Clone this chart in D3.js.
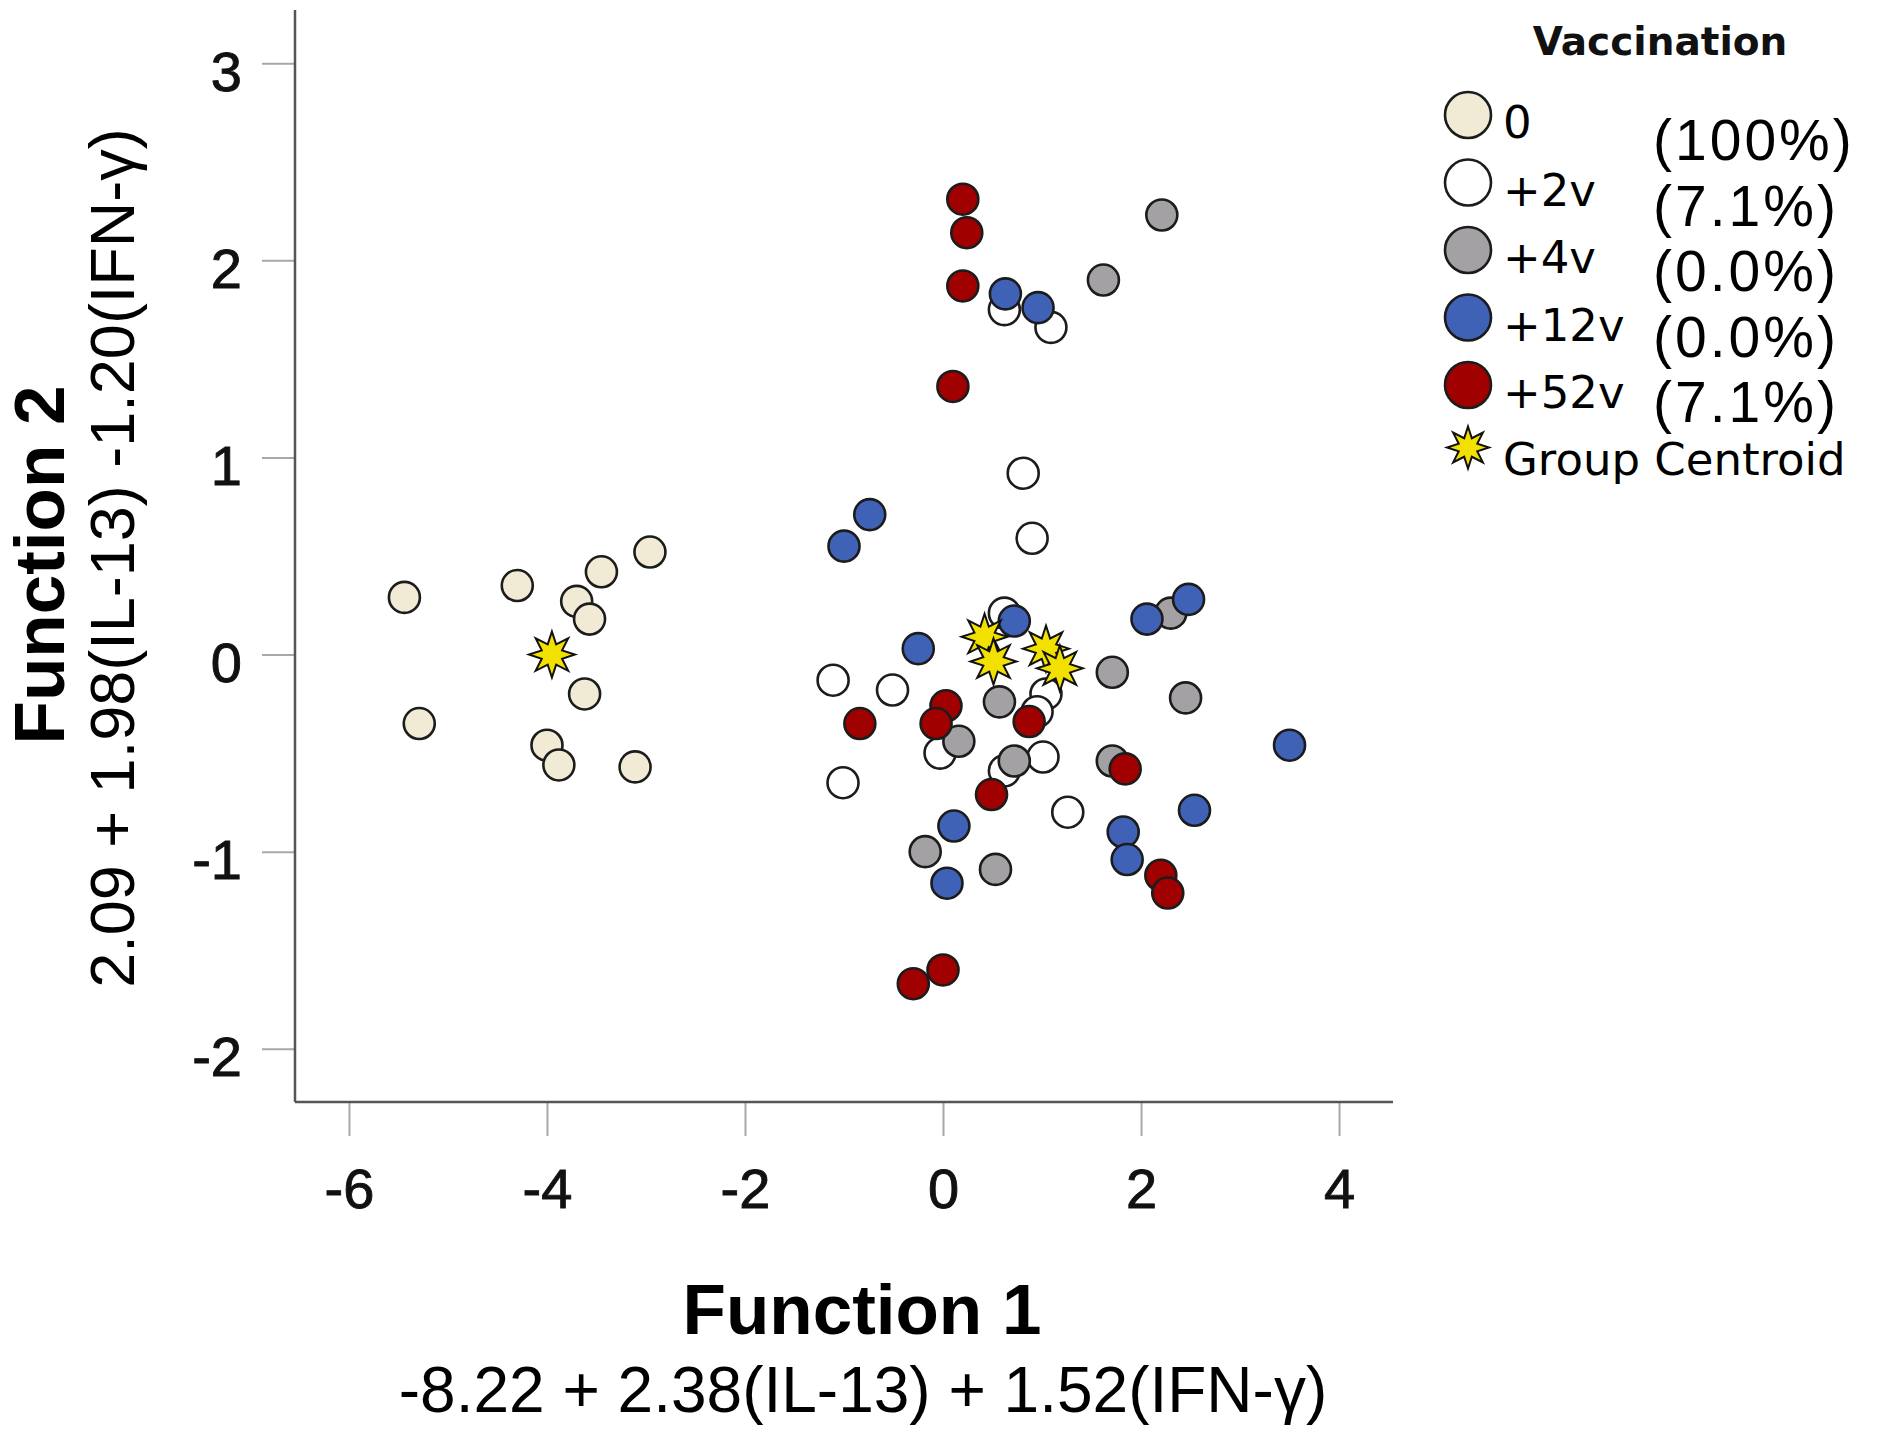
<!DOCTYPE html>
<html>
<head>
<meta charset="utf-8">
<script src="https://cdn.jsdelivr.net/npm/d3@7"></script>
<style>
  html, body { margin: 0; padding: 0; background: #fff; }
  svg { display: block; }
</style>
</head>
<body>
<svg id="chart" width="1885" height="1431"></svg>
<script>
// ---------------- DATA ----------------
const groupNames = ["0", "+2v", "+4v", "+12v", "+52v"];
const groupPercents = ["(100%)", "(7.1%)", "(0.0%)", "(0.0%)", "(7.1%)"];
const groupColors = ["#f1ead5", "#ffffff", "#a3a1a3", "#3f61b6", "#a10000"];

const group0 = [[-5.44,0.29],[-5.29,-0.35],[-4.30,0.35],[-3.70,0.27],[-3.57,0.18],[-3.45,0.42],
  [-2.96,0.52],[-3.62,-0.20],[-4.00,-0.46],[-3.88,-0.56],[-3.11,-0.57]];
const group2v = [[0.62,1.75],[1.09,1.66],[0.81,0.92],[0.90,0.59],[0.62,0.21],[-1.11,-0.13],
  [-0.51,-0.18],[-0.03,-0.50],[1.04,-0.20],[0.95,-0.29],[0.62,-0.59],[1.01,-0.52],[-1.01,-0.65],[1.26,-0.80]];
const group4v = [[2.21,2.23],[1.62,1.90],[2.30,0.21],[1.71,-0.09],[2.45,-0.22],[1.71,-0.54],
  [0.57,-0.24],[0.16,-0.44],[0.72,-0.54],[-0.18,-1.00],[0.53,-1.09]];
const group12v = [[0.63,1.83],[0.96,1.76],[-0.74,0.71],[-1.00,0.55],[-0.25,0.03],[0.72,0.17],
  [2.06,0.18],[2.48,0.28],[3.50,-0.46],[2.54,-0.79],[1.82,-0.90],[1.86,-1.04],[0.11,-0.87],[0.04,-1.16]];
const group52v = [[0.20,2.31],[0.24,2.14],[0.20,1.87],[0.10,1.36],[-0.84,-0.35],[0.03,-0.26],
  [-0.07,-0.35],[0.87,-0.34],[0.49,-0.71],[1.84,-0.58],[2.20,-1.12],[2.27,-1.21],[0.00,-1.60],[-0.30,-1.67]];
const centroids = [[-3.95,0.00],[0.42,0.09],[0.51,-0.035],[1.04,0.03],[1.18,-0.07]];

const xTicks = [-6, -4, -2, 0, 2, 4];
const yTicks = [3, 2, 1, 0, -1, -2];

const xTitle = "Function 1";
const xSubtitle = "-8.22 + 2.38(IL-13) + 1.52(IFN-\u03b3)";
const yTitle = "Function 2";
const ySubtitle = "2.09 + 1.98(IL-13) -1.20(IFN-\u03b3)";
const legendTitle = "Vaccination";
const centroidLabel = "Group Centroid";

// ---------------- LAYOUT ----------------
const svg = d3.select("#chart");
const L = 295, R = 1393, T = 10, B = 1102;
const x = d3.scaleLinear().domain([-6.545, 4.545]).range([L, R]);
const y = d3.scaleLinear().domain([-2.27, 3.27]).range([B, T]);

const sans = "'Liberation Sans', Arial, sans-serif";
const dv = "'DejaVu Sans', Verdana, sans-serif";

// star path generator (8-pointed)
function starPath(outer, inner) {
  const pts = d3.range(16).map(i => [i * Math.PI / 8, i % 2 === 0 ? outer : inner]);
  return d3.lineRadial().angle(d => d[0]).radius(d => d[1]).curve(d3.curveLinearClosed)(pts);
}

// axes
const xAxis = d3.axisBottom(x).tickValues(xTicks).tickSize(34).tickPadding(10);
const gx = svg.append("g").attr("transform", `translate(0,${B})`).call(xAxis);
gx.select(".domain").remove();
gx.selectAll(".tick line").attr("stroke", "#a8a8a8").attr("stroke-width", 2);
gx.selectAll(".tick text").attr("font-family", sans).attr("font-size", 56).attr("fill", "#111")
  .attr("stroke", "#111").attr("stroke-width", 0.9)
  .attr("y", 0).attr("dy", 0).attr("transform", "translate(0,106)")
  .text(d => d < 0 ? "-" + Math.abs(d) : d);

const yAxis = d3.axisLeft(y).tickValues(yTicks).tickSize(33).tickPadding(20);
const gy = svg.append("g").attr("transform", `translate(${L},0)`).call(yAxis);
gy.select(".domain").remove();
gy.selectAll(".tick line").attr("stroke", "#a8a8a8").attr("stroke-width", 2);
gy.selectAll(".tick text").attr("font-family", sans).attr("font-size", 56).attr("fill", "#111")
  .attr("stroke", "#111").attr("stroke-width", 0.9)
  .attr("dy", "0.48em")
  .text(d => d < 0 ? "-" + Math.abs(d) : d);

// axis lines
svg.append("line").attr("x1", L).attr("x2", L).attr("y1", T).attr("y2", B)
  .attr("stroke", "#555").attr("stroke-width", 2.5);
svg.append("line").attr("x1", L).attr("x2", R).attr("y1", B).attr("y2", B)
  .attr("stroke", "#555").attr("stroke-width", 2.5);

// points
const groups = [group0, group2v, group4v, group12v, group52v];
const plot = svg.append("g");
groups.forEach((g, gi) => {
  plot.append("g").selectAll("circle").data(g).join("circle")
    .attr("cx", d => x(d[0])).attr("cy", d => y(d[1])).attr("r", 15.5)
    .attr("fill", groupColors[gi]).attr("stroke", "#1c1c1c").attr("stroke-width", 2.6);
});
plot.append("g").selectAll("path").data(centroids).join("path")
  .attr("d", starPath(23, 11))
  .attr("transform", d => `translate(${x(d[0])},${y(d[1])})`)
  .attr("fill", "#f2e000").attr("stroke", "#111").attr("stroke-width", 2);

// axis titles
svg.append("text").attr("x", 862).attr("y", 1334).attr("text-anchor", "middle")
  .attr("font-family", sans).attr("font-weight", "bold").attr("font-size", 71).attr("fill", "#000").text(xTitle);
svg.append("text").attr("x", 863).attr("y", 1412).attr("text-anchor", "middle")
  .attr("font-family", sans).attr("font-size", 64).attr("fill", "#000").text(xSubtitle);
svg.append("text").attr("transform", "translate(64,565) rotate(-90)").attr("text-anchor", "middle")
  .attr("font-family", sans).attr("font-weight", "bold").attr("font-size", 71).attr("fill", "#000").text(yTitle);
svg.append("text").attr("transform", "translate(134,558) rotate(-90)").attr("text-anchor", "middle")
  .attr("font-family", sans).attr("font-size", 63).attr("fill", "#000").text(ySubtitle);

// legend
const leg = svg.append("g");
leg.append("text").attr("x", 1660).attr("y", 55).attr("text-anchor", "middle")
  .attr("font-family", dv).attr("font-weight", "bold").attr("font-size", 39).attr("fill", "#111").text(legendTitle);
const ly = d3.scaleLinear().domain([0, 1]).range([115, 182.5]);
const lyText = d3.scaleLinear().domain([0, 1]).range([138, 205.5]);
const lyPct = d3.scaleLinear().domain([0, 1]).range([160, 225.5]);
groupNames.forEach((nm, i) => {
  leg.append("circle").attr("cx", 1468).attr("cy", ly(i)).attr("r", 23)
    .attr("fill", groupColors[i]).attr("stroke", "#1c1c1c").attr("stroke-width", 2.6);
  leg.append("text").attr("x", 1503).attr("y", lyText(i))
    .attr("font-family", dv).attr("font-size", 45).attr("fill", "#000").text(nm);
  leg.append("text").attr("x", 1653).attr("y", lyPct(i))
    .attr("font-family", sans).attr("font-size", 57).attr("letter-spacing", 3).attr("fill", "#000").text(groupPercents[i]);
});
leg.append("path").attr("d", starPath(21, 10)).attr("transform", `translate(1468,${ly(5) - 5})`)
  .attr("fill", "#f2e000").attr("stroke", "#111").attr("stroke-width", 2);
leg.append("text").attr("x", 1503).attr("y", lyText(5) - 1)
  .attr("font-family", dv).attr("font-size", 45).attr("fill", "#000").text(centroidLabel);
</script>
</body>
</html>
